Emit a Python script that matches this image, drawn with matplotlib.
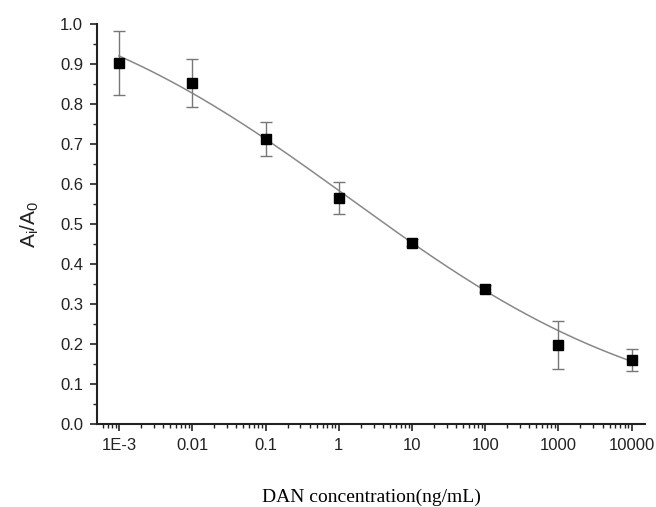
import matplotlib
matplotlib.use('Agg')
import matplotlib.pyplot as plt
import numpy as np
from matplotlib.ticker import LogLocator, FixedLocator, MultipleLocator, NullFormatter

conc = np.array([1e-3, 1e-2, 1e-1, 1, 10, 100, 1000, 10000])
ratio = np.array([0.902, 0.852, 0.712, 0.565, 0.453, 0.338, 0.198, 0.160])
err = np.array([0.080, 0.060, 0.043, 0.040, 0.008, 0.008, 0.060, 0.027])
tick_labels = ['1E-3', '0.01', '0.1', '1', '10', '100', '1000', '10000']


def logistic(x, a1, a2, x0, p):
    return a2 + (a1 - a2) / (1 + (x / x0) ** p)


# weighted 4-parameter logistic fit: grid over x0, p; least squares for a1, a2
w = 1 / np.sqrt(err)
best = None
for lx0 in np.linspace(-1.5, 2.5, 161):
    for p in np.linspace(0.15, 0.8, 131):
        g = 1 / (1 + (conc / 10 ** lx0) ** p)
        A = np.column_stack([g, 1 - g])
        coef, *_ = np.linalg.lstsq(A * w[:, None], ratio * w, rcond=None)
        r = np.sum(((A @ coef - ratio) * w) ** 2)
        if best is None or r < best[0]:
            best = (r, coef[0], coef[1], 10 ** lx0, p)
_, a1, a2, x0, p = best

xfit = np.logspace(-3, 4, 400)
yfit = logistic(xfit, a1, a2, x0, p)

plt.rcParams['mathtext.fontset'] = 'custom'
plt.rcParams['mathtext.rm'] = 'Liberation Sans'

fig = plt.figure(figsize=(6.56, 5.07), dpi=100)
ax = fig.add_axes([0.148, 0.164, 0.835, 0.789])

ax.plot(xfit, yfit, color='#888888', lw=1.1, zorder=2)
ax.errorbar(conc, ratio, yerr=err, fmt='s', color='black', ms=6.8,
            ecolor='#777777', elinewidth=1, capsize=4, capthick=1, zorder=3)

ax.set_xscale('log')
ax.set_xlim(10 ** -3.3, 10 ** 4.18)
ax.set_ylim(0, 1.0)
ax.xaxis.set_major_locator(FixedLocator(conc))
ax.set_xticklabels(tick_labels)
ax.xaxis.set_minor_locator(LogLocator(base=10, subs=np.arange(2, 10), numticks=20))
ax.xaxis.set_minor_formatter(NullFormatter())
ax.yaxis.set_major_locator(MultipleLocator(0.1))
ax.yaxis.set_minor_locator(MultipleLocator(0.05))
ax.yaxis.set_major_formatter('{x:.1f}')

for s in ['top', 'right']:
    ax.spines[s].set_visible(False)
for s in ['left', 'bottom']:
    ax.spines[s].set_linewidth(1.5)
    ax.spines[s].set_color('#222222')

ax.tick_params(which='major', direction='out', length=5, width=1.2, color='#222222',
               labelsize=12, pad=5)
ax.tick_params(which='minor', direction='out', length=3, width=1, color='#222222')
for lab in ax.get_xticklabels() + ax.get_yticklabels():
    lab.set_fontfamily('Liberation Sans')
    lab.set_color('#222222')

ax.set_xlabel('DAN concentration(ng/mL)', fontfamily='Liberation Serif', fontsize=14,
              labelpad=26)
ax.set_ylabel(r'A$_\mathregular{i}$/A$_\mathregular{0}$', fontfamily='Liberation Sans',
              fontsize=15, labelpad=14, color='#222222')

fig.savefig('out.png', dpi=100, facecolor='white')
